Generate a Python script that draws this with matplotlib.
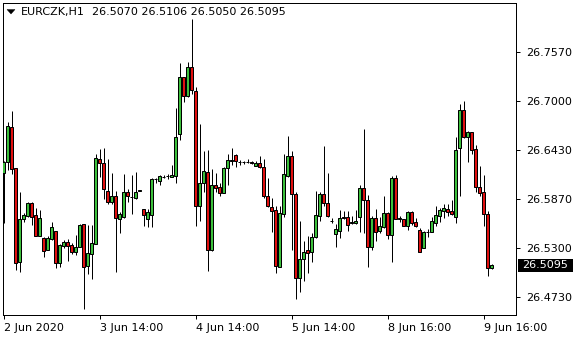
import numpy as np
import matplotlib
matplotlib.use("Agg")
import matplotlib.pyplot as plt
from matplotlib.patches import Rectangle, Polygon

symbol = "EURCZK,H1"

opens = [26.6168, 26.6296, 26.6702, 26.6226, 26.5134, 26.5634, 26.5668, 26.5819, 26.5680, 26.5436,
         26.5413, 26.5274, 26.5401, 26.5494, 26.5123, 26.5320, 26.5366, 26.5332, 26.5250, 26.5308,
         26.5575, 26.5088, 26.5227, 26.5343, 26.6330, 26.6284, 26.5959, 26.5831, 26.5901, 26.5634,
         26.5657, 26.5947, 26.5895, 26.5877, 26.5964, 26.5750, 26.5634, 26.5680, 26.6098, 26.6075,
         26.6127, 26.6133, 26.6127, 26.6133, 26.6621, 26.7283, 26.7062, 26.7399, 26.7120, 26.5785,
         26.6052, 26.6179, 26.5274, 26.6028, 26.6005, 26.5936, 26.6226, 26.6307, 26.6377, 26.6301,
         26.6296, 26.6301, 26.6299, 26.6253, 26.6284, 26.6237, 26.5901, 26.5773, 26.5738, 26.5076,
         26.5692, 26.6133, 26.6365, 26.5924, 26.4948, 26.5169, 26.5274, 26.5250, 26.5424, 26.5668,
         26.5924, 26.5819, 26.5614, 26.5459, 26.5494, 26.5660, 26.5657, 26.5603, 26.5584, 26.5657,
         26.5994, 26.5854, 26.5308, 26.5645, 26.5494, 26.5541, 26.5703, 26.5448, 26.6110, 26.5634,
         26.5634, 26.5558, 26.5715, 26.5599, 26.5506, 26.5302, 26.5483, 26.5486, 26.5587, 26.5672,
         26.5730, 26.5750, 26.5726, 26.5660, 26.6455, 26.6894, 26.6581, 26.6641, 26.6443, 26.6011,
         26.5944, 26.5688, 26.5070]
highs = [26.6307, 26.6760, 26.6888, 26.6226, 26.5947, 26.5703, 26.5831, 26.5831, 26.5761, 26.5738,
         26.5424, 26.5436, 26.5599, 26.5494, 26.5343, 26.5390, 26.5401, 26.5355, 26.5448, 26.5575,
         26.5575, 26.5564, 26.5564, 26.6388, 26.6447, 26.6458, 26.6330, 26.6168, 26.5959, 26.5715,
         26.6156, 26.5982, 26.6145, 26.6179, 26.5970, 26.5750, 26.5750, 26.6110, 26.6110, 26.6145,
         26.6145, 26.6156, 26.6261, 26.6923, 26.7445, 26.7283, 26.7457, 26.7956, 26.7167, 26.6737,
         26.6423, 26.6435, 26.6214, 26.6168, 26.6052, 26.6237, 26.6388, 26.6458, 26.6388, 26.6324,
         26.6313, 26.6336, 26.6313, 26.6307, 26.6365, 26.6330, 26.6110, 26.5877, 26.5785, 26.5785,
         26.6388, 26.6598, 26.6423, 26.5947, 26.5610, 26.5378, 26.5436, 26.5471, 26.5959, 26.5947,
         26.6481, 26.6168, 26.5651, 26.5575, 26.5738, 26.5726, 26.5726, 26.5674, 26.5738, 26.6028,
         26.6679, 26.5913, 26.5668, 26.5750, 26.5657, 26.5901, 26.5715, 26.6133, 26.6145, 26.5668,
         26.5634, 26.5726, 26.5726, 26.5645, 26.5526, 26.5494, 26.5514, 26.5660, 26.5785, 26.5761,
         26.5808, 26.5808, 26.5854, 26.6590, 26.6969, 26.7004, 26.6656, 26.6644, 26.6493, 26.6249,
         26.6145, 26.5721, 26.5106]
lows = [26.5587, 26.6203, 26.6156, 26.5041, 26.5018, 26.5599, 26.5657, 26.5564, 26.5436, 26.5436,
        26.5192, 26.5274, 26.5390, 26.5064, 26.5076, 26.5297, 26.5146, 26.5227, 26.5215, 26.5308,
        26.4588, 26.4995, 26.4937, 26.5343, 26.6121, 26.5866, 26.5808, 26.5808, 26.5018, 26.5471,
        26.5645, 26.5831, 26.5692, 26.5866, 26.5964, 26.5552, 26.5541, 26.5541, 26.6052, 26.6028,
        26.6110, 26.6098, 26.6121, 26.6052, 26.6551, 26.6992, 26.7050, 26.7085, 26.5552, 26.5610,
        26.5947, 26.5030, 26.5262, 26.5947, 26.5901, 26.5936, 26.6028, 26.6261, 26.6237, 26.6261,
        26.6272, 26.6284, 26.6272, 26.6249, 26.6226, 26.5877, 26.5773, 26.5483, 26.5006, 26.5076,
        26.5657, 26.6121, 26.5274, 26.4704, 26.4786, 26.4914, 26.5006, 26.5134, 26.5413, 26.5610,
        26.5785, 26.5657, 26.5593, 26.5308, 26.5413, 26.5634, 26.5494, 26.5575, 26.5575, 26.5483,
        26.5471, 26.5076, 26.5274, 26.5378, 26.5471, 26.5529, 26.5401, 26.5134, 26.5628, 26.5603,
        26.5547, 26.5506, 26.5564, 26.5541, 26.5250, 26.5297, 26.5424, 26.5483, 26.5547, 26.5603,
        26.5651, 26.5668, 26.5686, 26.5591, 26.5901, 26.6574, 26.6300, 26.6383, 26.5947, 26.5904,
        26.5552, 26.4975, 26.5050]
closes = [26.6296, 26.6714, 26.6214, 26.5123, 26.5634, 26.5680, 26.5819, 26.5657, 26.5436, 26.5645,
          26.5262, 26.5413, 26.5541, 26.5123, 26.5332, 26.5366, 26.5320, 26.5250, 26.5308, 26.5564,
          26.5076, 26.5239, 26.5355, 26.6342, 26.6284, 26.5982, 26.5831, 26.5901, 26.5645, 26.5692,
          26.5947, 26.5901, 26.5895, 26.5947, 26.5970, 26.5680, 26.5715, 26.6098, 26.6098, 26.6133,
          26.6127, 26.6133, 26.6145, 26.6586, 26.7283, 26.7062, 26.7399, 26.7132, 26.5785, 26.6052,
          26.6191, 26.5274, 26.6028, 26.5994, 26.5936, 26.6226, 26.6319, 26.6319, 26.6307, 26.6301,
          26.6296, 26.6301, 26.6280, 26.6284, 26.6237, 26.5901, 26.5785, 26.5726, 26.5088, 26.5703,
          26.6156, 26.6365, 26.5924, 26.4948, 26.5169, 26.5250, 26.5244, 26.5424, 26.5680, 26.5924,
          26.5819, 26.5668, 26.5614, 26.5517, 26.5645, 26.5642, 26.5564, 26.5584, 26.5605, 26.5994,
          26.5854, 26.5308, 26.5645, 26.5483, 26.5552, 26.5703, 26.5448, 26.6110, 26.5634, 26.5645,
          26.5558, 26.5715, 26.5587, 26.5552, 26.5256, 26.5483, 26.5483, 26.5605, 26.5680, 26.5738,
          26.5756, 26.5715, 26.5688, 26.6435, 26.6894, 26.6590, 26.6641, 26.6435, 26.6009, 26.5930,
          26.5688, 26.5061, 26.5095]

y_ticks = [26.4730, 26.5300, 26.5870, 26.6430, 26.7000, 26.7570]
x_tick_bars = [0, 24, 48, 72, 96, 120]
x_tick_labels = ["2 Jun 2020", "3 Jun 14:00", "4 Jun 14:00", "5 Jun 14:00", "8 Jun 16:00", "9 Jun 16:00"]

W, H = 580, 340
fig = plt.figure(figsize=(W / 100, H / 100), dpi=100)
fig.patch.set_facecolor("white")
ax = fig.add_axes([3 / W, (H - 315) / H, 513 / W, 312 / H])
ax.set_facecolor("white")

bull = "#3cc03c"
bear = "#e01010"
px = 0.72
n = len(opens)
x = np.arange(n)
o = np.array(opens); h = np.array(highs); l = np.array(lows); c = np.array(closes)

ax.vlines(x, l, h, color="black", linewidth=1.0 * px, zorder=2)
bw = 0.55
for i in range(n):
    lo, hi = min(o[i], c[i]), max(o[i], c[i])
    if abs(c[i] - o[i]) < 1e-6:
        ax.hlines(o[i], i - bw / 2 - 0.15, i + bw / 2 + 0.15, color="black", linewidth=1.0 * px, zorder=3)
        continue
    col = bull if c[i] > o[i] else bear
    ax.add_patch(Rectangle((i - bw / 2, lo), bw, hi - lo, facecolor=col,
                           edgecolor="black", linewidth=1.0 * px, zorder=3))

ax.set_xlim(-0.125, 128.125)
ax.set_ylim(26.4519, 26.8142)

for sp in ax.spines.values():
    sp.set_color("black")
    sp.set_linewidth(1.0 * px)

ax.yaxis.tick_right()
ax.set_yticks(y_ticks)
ax.set_yticklabels([f"{v:.4f}" for v in y_ticks])
ax.tick_params(axis="y", direction="out", length=3, width=px, pad=4, labelsize=8, colors="black")
ax.set_xticks(x_tick_bars)
ax.set_xticklabels(x_tick_labels, ha="left")
ax.tick_params(axis="x", direction="out", length=3, width=px, pad=3, labelsize=8, colors="black")

# header: triangle marker + symbol + OHLC of last bar
tri = Polygon([[7 / W, 1 - 9.5 / H], [15 / W, 1 - 9.5 / H], [11 / W, 1 - 14 / H]],
              closed=True, transform=fig.transFigure, facecolor="black", edgecolor="black",
              linewidth=0.3)
fig.patches.append(tri)
fig.text(21 / W, 1 - 12 / H, symbol, fontsize=8, va="center", ha="left", color="black")
ohlc = f"{o[-1]:.4f} {h[-1]:.4f} {l[-1]:.4f} {c[-1]:.4f}"
fig.text(92 / W, 1 - 12 / H, ohlc, fontsize=8, va="center", ha="left", color="black")

# current price label
fig.canvas.draw()
yd = ax.transData.transform((0, c[-1]))[1]
yf = yd / fig.bbox.height
fig.patches.append(Rectangle((518 / W, yf - 6.5 / H), 55 / W, 13 / H, transform=fig.transFigure,
                             facecolor="black", edgecolor="none", zorder=5))
fig.text(522 / W, yf, f"{c[-1]:.4f}", fontsize=8, va="center", ha="left", color="white", zorder=6)

fig.savefig("out.png", dpi=100, facecolor="white")
